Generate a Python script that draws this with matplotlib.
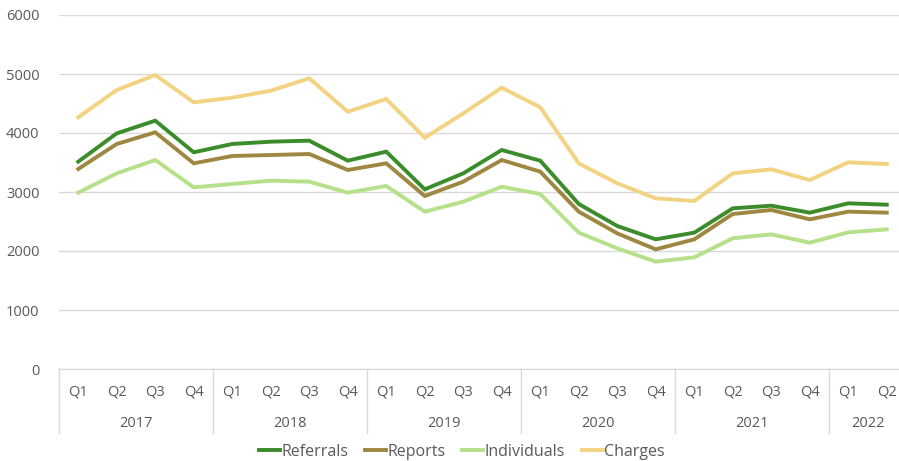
import matplotlib
matplotlib.use("Agg")
import matplotlib.pyplot as plt
import matplotlib.transforms as mtransforms

plt.rcParams['font.family'] = ['Open Sans', 'DejaVu Sans']

years = ["2017", "2018", "2019", "2020", "2021", "2022"]
quarters_per_year = [4, 4, 4, 4, 4, 2]
quarter_labels = ["Q1", "Q2", "Q3", "Q4"] * 5 + ["Q1", "Q2"]

referrals = [3514, 3994, 4209, 3673, 3814, 3853, 3870, 3531, 3684, 3045, 3316, 3712,
             3531, 2797, 2424, 2198, 2311, 2723, 2768, 2650, 2808, 2785]
reports = [3390, 3814, 4011, 3486, 3610, 3627, 3644, 3373, 3486, 2932, 3175, 3542,
           3345, 2667, 2299, 2028, 2198, 2627, 2695, 2537, 2667, 2650]
individuals = [2989, 3316, 3542, 3079, 3136, 3192, 3175, 2989, 3102, 2667, 2836, 3090,
               2966, 2311, 2045, 1819, 1893, 2215, 2282, 2141, 2316, 2367]
charges = [4266, 4729, 4983, 4520, 4599, 4717, 4927, 4361, 4576, 3920, 4333, 4768,
           4435, 3486, 3147, 2893, 2847, 3316, 3384, 3203, 3503, 3475]

series = [("Referrals", referrals, "#3B8C2A"),
          ("Reports", reports, "#9E8741"),
          ("Individuals", individuals, "#B6E08A"),
          ("Charges", charges, "#F3D381")]

W, H = 899, 461
fig = plt.figure(figsize=(W / 100, H / 100), dpi=100)
left, right, top, bottom = 59, 906, 15, 369
ax = fig.add_axes([left / W, 1 - bottom / H, (right - left) / W, (bottom - top) / H])

x = list(range(len(quarter_labels)))
for name, vals, col in series:
    ax.plot(x, vals, color=col, lw=2.8, label=name, solid_joinstyle='miter')

ax.set_xlim(-0.5, len(x) - 0.5)
ax.set_ylim(0, 6000)
ax.set_yticks(range(0, 6001, 1000))
ax.yaxis.grid(True, color="#D9D9D9", lw=1)
ax.set_axisbelow(True)
for s in ["top", "right", "left"]:
    ax.spines[s].set_visible(False)
ax.spines["bottom"].set_color("#D9D9D9")
ax.tick_params(axis="y", length=0, labelsize=10.5, labelcolor="#595959", pad=14)
ax.set_xticks(x)
ax.set_xticklabels(quarter_labels)
ax.tick_params(axis="x", length=0, labelsize=10.5, labelcolor="#595959", pad=11)

# year labels and separators
trans = mtransforms.blended_transform_factory(ax.transData, ax.transAxes)
sep_bottom = -(433 - 369) / (bottom - top)
year_y = -(423 - 369) / (bottom - top)
start = 0
for yr, n in zip(years, quarters_per_year):
    ax.plot([start - 0.5, start - 0.5], [0, sep_bottom], transform=trans,
            color="#D9D9D9", lw=1, clip_on=False)
    ax.text(start + (n - 1) / 2, year_y, yr, transform=trans, ha="center", va="center",
            fontsize=10.5, color="#595959")
    start += n

fig.legend(loc="center", bbox_to_anchor=(462 / W, 1 - 452 / H), ncol=4, frameon=False,
           handlelength=1.3, handletextpad=0.1, columnspacing=1.05,
           prop={"size": 11.5}, labelcolor="#595959")

fig.savefig("out.png", dpi=100)
